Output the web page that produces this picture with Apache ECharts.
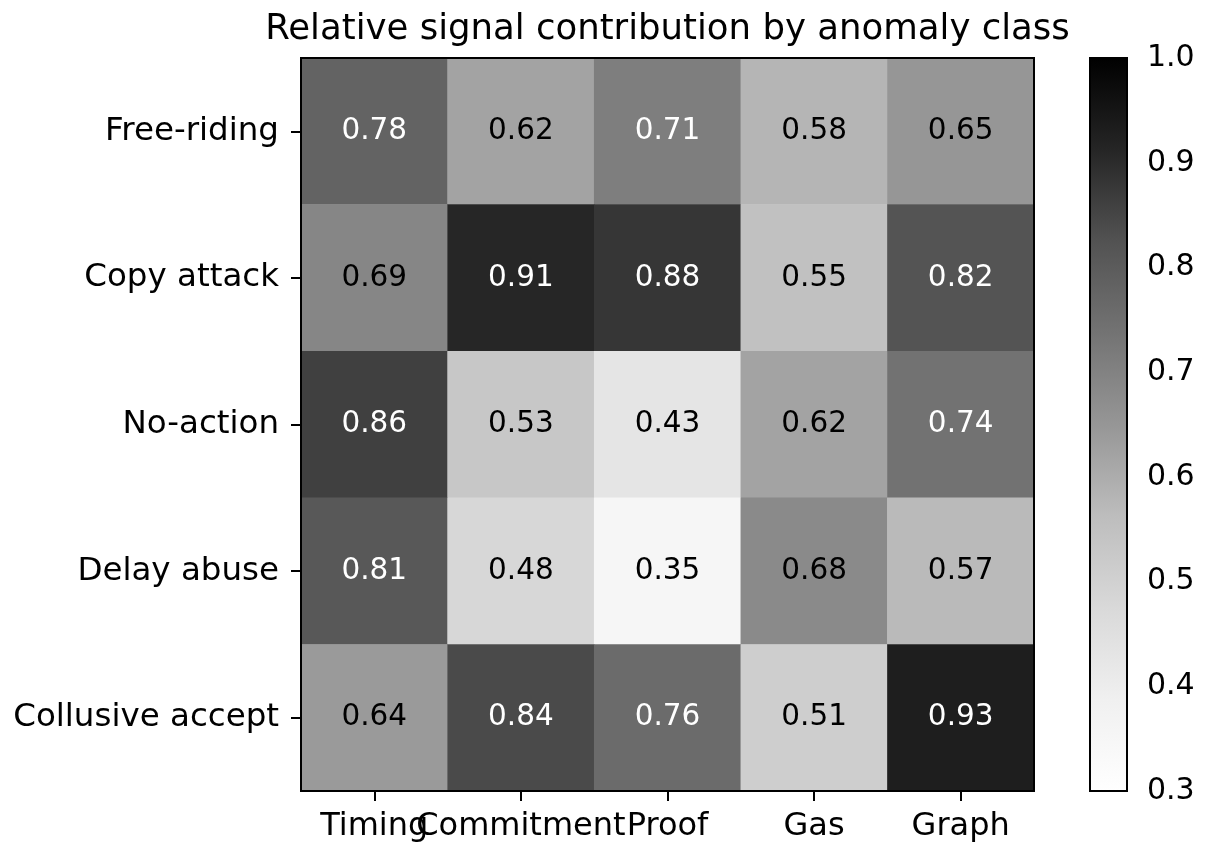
<!DOCTYPE html>
<html>
<head>
<meta charset="utf-8">
<script src="https://cdn.jsdelivr.net/npm/echarts@6/dist/echarts.min.js"></script>
<style>
html,body{margin:0;padding:0;background:#fff;}
#chart{width:1205px;height:844px;}
</style>
</head>
<body>
<div id="chart"></div>
<script>
const titleText = 'Relative signal contribution by anomaly class';
const xCategories = ['Timing', 'Commitment', 'Proof', 'Gas', 'Graph'];
const yCategories = ['Free-riding', 'Copy attack', 'No-action', 'Delay abuse', 'Collusive accept'];
const rowFreeRiding = [0.78, 0.62, 0.71, 0.58, 0.65];
const rowCopyAttack = [0.69, 0.91, 0.88, 0.55, 0.82];
const rowNoAction = [0.86, 0.53, 0.43, 0.62, 0.74];
const rowDelayAbuse = [0.81, 0.48, 0.35, 0.68, 0.57];
const rowCollusive = [0.64, 0.84, 0.76, 0.51, 0.93];
const colorbarMin = 0.3;
const colorbarMax = 1.0;
const colorbarStep = 0.1;

const rows = [rowFreeRiding, rowCopyAttack, rowNoAction, rowDelayAbuse, rowCollusive];
const greys = ['#ffffff', '#f0f0f0', '#d9d9d9', '#bdbdbd', '#969696', '#737373', '#525252', '#252525', '#000000'];
const FONT = 'DejaVu Sans';

const data = [];
rows.forEach((row, j) => {
  row.forEach((v, i) => {
    data.push({ value: [i, j, v], label: { color: v > 0.7 ? '#ffffff' : '#000000' } });
  });
});

const plot = { left: 301, top: 58, width: 733, height: 733 };
const cbar = { left: 1090, top: 58, width: 37, height: 733 };

const chart = echarts.init(document.getElementById('chart'), null, { renderer: 'canvas' });
chart.setOption({
  backgroundColor: '#ffffff',
  animation: false,
  title: {
    text: titleText,
    left: plot.left + plot.width / 2,
    top: 12,
    padding: 0,
    textAlign: 'center',
    textStyle: { fontFamily: FONT, fontSize: 35.5, fontWeight: 'normal', color: '#000' }
  },
  grid: [
    { left: plot.left, top: plot.top, width: plot.width, height: plot.height, show: true, borderColor: '#000', borderWidth: 2, backgroundColor: 'transparent', z: 10 },
    { left: cbar.left, top: cbar.top, width: cbar.width, height: cbar.height, show: false }
  ],
  xAxis: [
    {
      type: 'category', data: xCategories, gridIndex: 0,
      axisLine: { show: true, lineStyle: { color: '#000', width: 2 } },
      axisTick: { show: true, alignWithLabel: true, length: 10, lineStyle: { color: '#000', width: 2 } },
      axisLabel: { fontFamily: FONT, fontSize: 32, color: '#000', margin: 20, interval: 0 },
      splitLine: { show: false }
    },
    { type: 'value', gridIndex: 1, show: false, min: 0, max: 1 }
  ],
  yAxis: [
    {
      type: 'category', data: yCategories, gridIndex: 0, inverse: true,
      axisLine: { show: true, lineStyle: { color: '#000', width: 2 } },
      axisTick: { show: true, alignWithLabel: true, length: 10, lineStyle: { color: '#000', width: 2 } },
      axisLabel: { fontFamily: FONT, fontSize: 32.5, color: '#000', margin: 22 },
      splitLine: { show: false }
    },
    {
      type: 'value', gridIndex: 1, position: 'right', min: colorbarMin, max: colorbarMax, interval: colorbarStep,
      axisLine: { show: true, lineStyle: { color: '#000', width: 2 } },
      axisTick: { show: true, inside: false, length: 10, lineStyle: { color: '#000', width: 2 } },
      axisLabel: { fontFamily: FONT, fontSize: 30, color: '#000', margin: 20, formatter: v => v.toFixed(1) },
      splitLine: { show: false }
    }
  ],
  visualMap: {
    type: 'continuous', show: false, min: colorbarMin, max: colorbarMax, dimension: 2, seriesIndex: 0,
    inRange: { color: greys }
  },
  graphic: [
    {
      type: 'rect', z: 5,
      shape: { x: cbar.left, y: cbar.top, width: cbar.width, height: cbar.height },
      style: {
        fill: new echarts.graphic.LinearGradient(0, 0, 0, 1,
          greys.slice().reverse().map((c, k) => ({ offset: k / (greys.length - 1), color: c }))),
        stroke: '#000', lineWidth: 2
      }
    }
  ],
  series: [
    {
      type: 'heatmap', xAxisIndex: 0, yAxisIndex: 0, data: data,
      itemStyle: { borderWidth: 0 },
      label: { show: true, fontFamily: FONT, fontSize: 29.5, formatter: p => p.value[2].toFixed(2) },
      emphasis: { disabled: true }
    }
  ]
});
</script>
</body>
</html>
